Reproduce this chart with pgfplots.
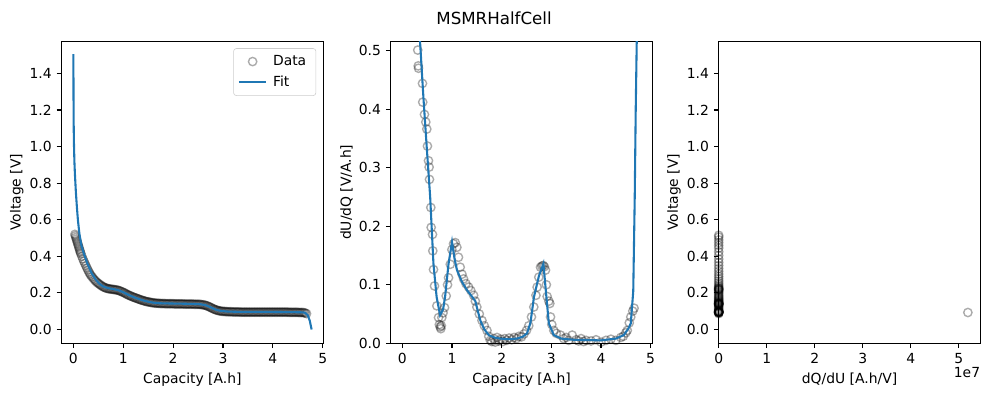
\documentclass[border=0pt]{standalone}
\usepackage{fontspec}
\setmainfont{DejaVu Sans}
\usepackage{pgfplots}
\pgfplotsset{compat=1.18}
\usepackage{pgfplotstable}
\definecolor{tabblue}{RGB}{31,119,180}

\pgfplotstableread{
x y
0.03 0.520
0.04 0.512
0.05 0.503
0.06 0.494
0.07 0.485
0.08 0.476
0.09 0.467
0.10 0.458
0.11 0.449
0.12 0.440
0.13 0.431
0.14 0.422
0.15 0.414
0.17 0.400
0.19 0.386
0.21 0.373
0.23 0.361
0.25 0.349
0.27 0.337
0.29 0.326
0.31 0.315
0.33 0.305
0.35 0.296
0.375 0.288
0.40 0.279
0.425 0.271
0.45 0.264
0.475 0.257
0.50 0.252
0.525 0.247
0.55 0.242
0.575 0.237
0.60 0.233
0.625 0.230
0.65 0.227
0.675 0.225
0.70 0.223
0.725 0.222
0.75 0.221
0.775 0.220
0.80 0.219
0.825 0.218
0.85 0.217
0.875 0.216
0.90 0.214
0.925 0.212
0.95 0.209
0.975 0.206
1.00 0.203
1.025 0.200
1.05 0.196
1.075 0.192
1.10 0.189
1.125 0.186
1.15 0.183
1.175 0.180
1.20 0.177
1.225 0.175
1.25 0.172
1.275 0.170
1.30 0.167
1.325 0.165
1.35 0.162
1.375 0.160
1.40 0.158
1.425 0.156
1.45 0.154
1.475 0.152
1.50 0.151
1.525 0.150
1.55 0.148
1.575 0.147
1.60 0.146
1.625 0.145
1.65 0.144
1.675 0.144
1.70 0.143
1.725 0.143
1.75 0.142
1.775 0.142
1.80 0.142
1.825 0.142
1.85 0.141
1.875 0.141
1.90 0.141
1.925 0.141
1.95 0.141
1.975 0.141
2.00 0.141
2.025 0.140
2.05 0.140
2.075 0.140
2.10 0.140
2.125 0.140
2.15 0.140
2.175 0.140
2.20 0.140
2.225 0.139
2.25 0.139
2.275 0.139
2.30 0.139
2.325 0.139
2.35 0.139
2.375 0.139
2.40 0.139
2.425 0.138
2.45 0.138
2.475 0.138
2.50 0.138
2.525 0.138
2.55 0.137
2.575 0.136
2.60 0.135
2.625 0.134
2.65 0.132
2.675 0.130
2.70 0.127
2.725 0.124
2.75 0.121
2.775 0.117
2.80 0.114
2.825 0.111
2.85 0.108
2.875 0.106
2.90 0.104
2.925 0.102
2.95 0.101
2.975 0.100
3.00 0.099
3.025 0.099
3.05 0.098
3.075 0.098
3.10 0.097
3.125 0.097
3.15 0.097
3.175 0.097
3.20 0.096
3.225 0.096
3.25 0.096
3.275 0.096
3.30 0.096
3.325 0.096
3.35 0.095
3.375 0.095
3.40 0.095
3.425 0.095
3.45 0.095
3.475 0.095
3.50 0.095
3.525 0.095
3.55 0.095
3.575 0.095
3.60 0.095
3.625 0.095
3.65 0.095
3.675 0.095
3.70 0.095
3.725 0.095
3.75 0.095
3.775 0.095
3.80 0.095
3.825 0.095
3.85 0.095
3.875 0.095
3.90 0.095
3.925 0.095
3.95 0.095
3.975 0.095
4.00 0.095
4.025 0.095
4.05 0.095
4.075 0.095
4.10 0.095
4.125 0.095
4.15 0.095
4.175 0.095
4.20 0.095
4.225 0.095
4.25 0.095
4.275 0.095
4.30 0.095
4.325 0.094
4.35 0.094
4.375 0.094
4.40 0.094
4.425 0.094
4.45 0.094
4.475 0.094
4.50 0.094
4.525 0.093
4.55 0.093
4.575 0.093
4.60 0.093
4.625 0.092
4.65 0.090
4.675 0.087
}\voltdata

\pgfplotstableread{
x y
0.000 1.505
0.001 1.40
0.003 1.25
0.006 1.12
0.010 1.03
0.020 0.92
0.030 0.853
0.050 0.75
0.070 0.67
0.090 0.60
0.120 0.525
0.160 0.46
0.210 0.415
0.280 0.36
0.370 0.306
0.450 0.272
0.520 0.250
0.600 0.235
0.700 0.226
0.800 0.221
0.900 0.215
1.000 0.204
1.100 0.190
1.200 0.178
1.300 0.168
1.400 0.159
1.500 0.152
1.600 0.147
1.700 0.144
1.800 0.143
2.000 0.142
2.200 0.141
2.400 0.140
2.550 0.138
2.650 0.133
2.750 0.122
2.850 0.109
2.950 0.102
3.100 0.098
3.400 0.096
4.000 0.096
4.400 0.095
4.600 0.094
4.650 0.091
4.700 0.078
4.740 0.048
4.777 0.000
}\voltfit

\pgfplotstableread{
x y
0.310 0.501
0.320 0.474
0.325 0.470
0.405 0.444
0.410 0.412
0.445 0.391
0.472 0.378
0.492 0.366
0.505 0.337
0.526 0.312
0.539 0.301
0.546 0.280
0.573 0.232
0.580 0.198
0.607 0.186
0.613 0.158
0.627 0.126
0.647 0.098
0.694 0.064
0.728 0.044
0.745 0.032
0.762 0.028
0.775 0.025
0.785 0.030
0.795 0.044
0.820 0.052
0.850 0.061
0.883 0.081
0.910 0.100
0.930 0.112
0.965 0.135
0.997 0.160
1.030 0.170
1.065 0.172
1.098 0.164
1.130 0.147
1.165 0.130
1.200 0.118
1.233 0.110
1.280 0.102
1.334 0.096
1.380 0.090
1.435 0.082
1.470 0.072
1.500 0.062
1.550 0.050
1.603 0.039
1.650 0.030
1.704 0.022
1.740 0.012
1.771 0.005
1.800 0.003
1.840 0.008
1.870 0.002
1.906 0.010
1.940 0.004
1.980 0.007
2.020 0.003
2.060 0.008
2.100 0.005
2.150 0.009
2.200 0.006
2.250 0.010
2.300 0.008
2.350 0.012
2.400 0.011
2.450 0.016
2.500 0.022
2.546 0.030
2.600 0.045
2.647 0.062
2.690 0.082
2.714 0.096
2.748 0.113
2.782 0.130
2.810 0.132
2.836 0.133
2.860 0.131
2.883 0.125
2.900 0.100
2.916 0.080
2.950 0.072
2.970 0.068
2.984 0.045
3.010 0.032
3.050 0.022
3.100 0.017
3.185 0.014
3.250 0.008
3.300 0.010
3.350 0.005
3.420 0.014
3.500 0.006
3.550 0.004
3.600 0.008
3.650 0.003
3.700 0.005
3.800 0.004
3.900 0.006
4.000 0.002
4.100 0.005
4.200 0.007
4.300 0.005
4.400 0.010
4.450 0.012
4.500 0.018
4.530 0.022
4.570 0.035
4.600 0.045
4.640 0.055
4.667 0.060
}\dudqdata

\pgfplotstableread{
x y
0.300 0.580
0.357 0.514
0.424 0.420
0.490 0.336
0.560 0.250
0.626 0.136
0.690 0.079
0.760 0.048
0.820 0.058
0.860 0.079
0.930 0.136
1.000 0.173
1.050 0.145
1.100 0.125
1.200 0.105
1.300 0.091
1.400 0.080
1.470 0.072
1.520 0.055
1.570 0.039
1.650 0.024
1.740 0.014
1.850 0.010
1.970 0.008
2.150 0.007
2.300 0.008
2.420 0.011
2.510 0.017
2.580 0.035
2.650 0.079
2.750 0.115
2.840 0.136
2.900 0.080
2.950 0.034
3.050 0.014
3.200 0.008
3.450 0.006
4.000 0.005
4.300 0.008
4.460 0.014
4.550 0.025
4.600 0.034
4.650 0.089
4.680 0.250
4.700 0.400
4.720 0.514
4.730 0.600
}\dudqfit

\pgfplotstableread{
x y
2 0.515
2 0.505
2 0.49
2 0.475
2 0.46
3 0.445
3 0.425
3 0.405
3 0.385
4 0.367
4 0.35
4 0.333
5 0.318
5 0.303
6 0.29
7 0.277
8 0.265
10 0.254
12 0.244
15 0.236
20 0.230
30 0.226
50 0.223
80 0.221
60 0.219
40 0.217
20 0.214
12 0.209
8 0.203
8 0.196
9 0.189
10 0.183
11 0.177
12 0.172
14 0.167
16 0.162
20 0.158
25 0.154
30 0.151
45 0.148
70 0.146
120 0.144
200 0.143
300 0.142
250 0.141
400 0.140
300 0.139
200 0.138
60 0.137
25 0.135
15 0.132
10 0.127
8 0.121
8 0.114
10 0.108
15 0.104
30 0.101
50 0.099
80 0.098
120 0.097
200 0.096
300 0.095
400 0.095
250 0.095
500 0.095
300 0.094
100 0.094
50 0.093
20 0.090
16 0.087
51900000 0.093
}\dqdudata

\begin{document}
\begin{tikzpicture}
\path[use as bounding box] (0,0) rectangle (712.08pt,285.12pt);
\pgfplotsset{
  every axis/.append style={
    scale only axis,
    width=188.4pt,
    height=217.44pt,
    anchor=south west,
    tick align=outside,
    xtick pos=bottom,
    ytick pos=left,
    major tick length=3.5pt,
    every tick/.style={black, line width=0.8pt},
    axis line style={line width=0.8pt},
    /pgf/number format/assume math mode=true,
    tick label style={font=\fontsize{10}{12}\selectfont},
    label style={font=\fontsize{10}{12}\selectfont},
    ylabel shift=-2.5pt,
    clip mode=individual,
    legend image code/.code={\draw[mark repeat=2,mark phase=2,##1] plot coordinates {(0cm,0cm) (0.35cm,0cm) (0.7cm,0cm)};},
  },
  datamark/.style={only marks, mark=o, mark size=3pt, draw=black, draw opacity=0.33, mark options={line width=1pt}},
  fitline/.style={no marks, tabblue, line width=1.5pt},
}
\begin{axis}[
  at={(44.28pt,37.94pt)},
  xmin=-0.2385, xmax=5.0085,
  ymin=-0.0753, ymax=1.5753,
  xtick={0,1,2,3,4,5},
  ytick={0,0.2,0.4,0.6,0.8,1.0,1.2,1.4},
  yticklabel style={/pgf/number format/.cd, fixed, fixed zerofill, precision=1},
  xlabel={Capacity [A.h]},
  ylabel={Voltage [V]},
  legend style={at={(rel axis cs:1,1)}, anchor=north east, xshift=-5pt, yshift=-5pt,
    draw=black!20, rounded corners=2pt, font=\fontsize{10}{12}\selectfont,
    row sep=2pt, inner xsep=3pt, inner ysep=3pt, nodes={inner xsep=4pt}},
  legend cell align=left,
]
\addplot[datamark] table {\voltdata};
\addlegendentry{Data}
\addplot[fitline] table {\voltfit};
\addlegendentry{Fit}
\end{axis}

\begin{axis}[
  at={(281.3pt,37.94pt)},
  xmin=-0.235, xmax=5.035,
  ymin=0, ymax=0.516,
  xtick={0,1,2,3,4,5},
  ytick={0,0.1,0.2,0.3,0.4,0.5},
  yticklabel style={/pgf/number format/.cd, fixed, fixed zerofill, precision=1},
  xlabel={Capacity [A.h]},
  ylabel={dU/dQ [V/A.h]},
]
\addplot[datamark] table {\dudqdata};
\addplot[fitline] table {\dudqfit};
\end{axis}

\begin{axis}[
  at={(517.46pt,37.94pt)},
  xmin=0, xmax=54500000,
  ymin=-0.0753, ymax=1.5753,
  scaled x ticks=false,
  xtick={0,10000000,20000000,30000000,40000000,50000000},
  xticklabels={0,1,2,3,4,5},
  ytick={0,0.2,0.4,0.6,0.8,1.0,1.2,1.4},
  yticklabel style={/pgf/number format/.cd, fixed, fixed zerofill, precision=1},
  xlabel={dQ/dU [A.h/V]},
  ylabel={Voltage [V]},
]
\addplot[datamark] table {\dqdudata};
\node[anchor=north east, font=\fontsize{10}{12}\selectfont, inner sep=0pt] at (rel axis cs:1,0) [yshift=-17pt] {1e7};
\end{axis}

\node[font=\fontsize{12}{14}\selectfont] at (355.7pt,272.2pt) {MSMRHalfCell};
\end{tikzpicture}
\end{document}
